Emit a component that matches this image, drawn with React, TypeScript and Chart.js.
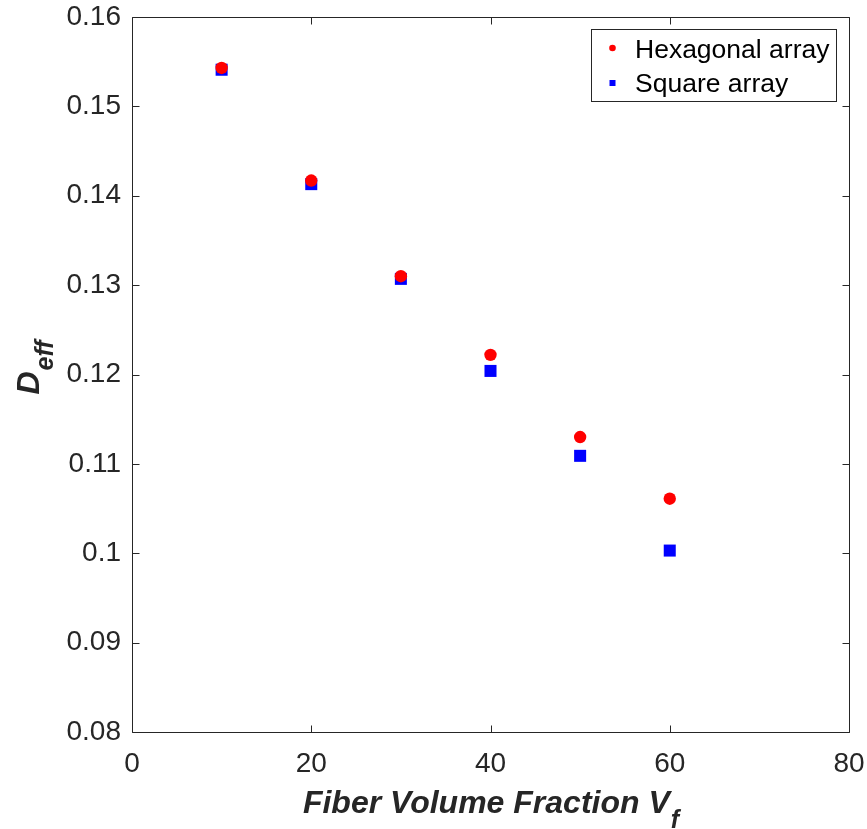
import React, { useEffect, useRef } from "react";
import { Chart, registerables } from "chart.js";

Chart.register(...registerables);

const fiberFractions = [10, 20, 30, 40, 50, 60];
const hexagonalDeff = [0.1543, 0.1417, 0.1310, 0.1222, 0.1130, 0.1061];
const squareDeff = [0.1541, 0.1413, 0.1307, 0.1204, 0.1109, 0.1003];
const seriesLabels = ["Hexagonal array", "Square array"];
const xTicks = [0, 20, 40, 60, 80];
const yTicks = [0.08, 0.09, 0.1, 0.11, 0.12, 0.13, 0.14, 0.15, 0.16];

const AXIS_COLOR = "#262626";
const FONT = "'Liberation Sans', Arial, Helvetica, sans-serif";

const decorPlugin = {
  id: "matlabDecor",
  afterDraw(chart: any) {
    const { ctx, chartArea } = chart;
    const { left, right, top, bottom } = chartArea;
    const xs = chart.scales.x;
    const ys = chart.scales.y;
    ctx.save();
    ctx.strokeStyle = AXIS_COLOR;
    ctx.lineWidth = 1;
    const L = Math.round(left) + 0.5;
    const R = Math.round(right) + 0.5;
    const T = Math.round(top) + 0.5;
    const B = Math.round(bottom) + 0.5;
    ctx.beginPath();
    ctx.rect(L, T, R - L, B - T);
    ctx.stroke();
    const tl = 7;
    ctx.beginPath();
    xTicks.forEach((v) => {
      const px = Math.round(xs.getPixelForValue(v)) + 0.5;
      ctx.moveTo(px, B);
      ctx.lineTo(px, B - tl);
      ctx.moveTo(px, T);
      ctx.lineTo(px, T + tl);
    });
    yTicks.forEach((v) => {
      const py = Math.round(ys.getPixelForValue(v)) + 0.5;
      ctx.moveTo(L, py);
      ctx.lineTo(L + tl, py);
      ctx.moveTo(R, py);
      ctx.lineTo(R - tl, py);
    });
    ctx.stroke();

    // Legend
    const lx = 591.5, ly = 29.5, lw = 245, lh = 72;
    ctx.fillStyle = "#ffffff";
    ctx.fillRect(lx, ly, lw, lh);
    ctx.strokeStyle = AXIS_COLOR;
    ctx.strokeRect(lx, ly, lw, lh);
    ctx.fillStyle = "#ff0000";
    ctx.beginPath();
    ctx.arc(612.5, 48, 3.3, 0, Math.PI * 2);
    ctx.fill();
    ctx.fillStyle = "#0000ff";
    ctx.fillRect(609.5, 80, 6, 6);
    ctx.fillStyle = "#000000";
    ctx.font = `26.5px ${FONT}`;
    ctx.textAlign = "left";
    ctx.textBaseline = "alphabetic";
    ctx.fillText(seriesLabels[0], 635, 58);
    ctx.fillText(seriesLabels[1], 635, 92);

    // X title
    ctx.fillStyle = AXIS_COLOR;
    const mainFont = `italic bold 32px ${FONT}`;
    const subFont = `italic bold 25px ${FONT}`;
    ctx.font = mainFont;
    const xMain = "Fiber Volume Fraction V";
    const w1 = ctx.measureText(xMain).width;
    ctx.font = subFont;
    const w2 = ctx.measureText("f").width;
    const cx = (left + right) / 2;
    const sx = cx - (w1 + w2) / 2;
    ctx.font = mainFont;
    ctx.fillText(xMain, sx, 813);
    ctx.font = subFont;
    ctx.fillText("f", sx + w1 + 1, 828);

    // Y title
    ctx.save();
    ctx.translate(39, 368);
    ctx.rotate(-Math.PI / 2);
    ctx.font = mainFont;
    const wd = ctx.measureText("D").width;
    ctx.font = subFont;
    const we = ctx.measureText("eff").width;
    const sy = -(wd + we) / 2;
    ctx.font = mainFont;
    ctx.fillText("D", sy, 0);
    ctx.font = subFont;
    ctx.fillText("eff", sy + wd + 1, 14);
    ctx.restore();

    ctx.restore();
  },
};

export default function App() {
  const ref = useRef<HTMLCanvasElement>(null);
  useEffect(() => {
    if (!ref.current) return;
    const chart = new Chart(ref.current, {
      type: "scatter",
      data: {
        datasets: [
          {
            label: seriesLabels[0],
            data: fiberFractions.map((x, i) => ({ x, y: hexagonalDeff[i] })),
            pointStyle: "circle",
            pointRadius: 6.2,
            backgroundColor: "#ff0000",
            borderWidth: 0,
          },
          {
            label: seriesLabels[1],
            data: fiberFractions.map((x, i) => ({ x, y: squareDeff[i] })),
            pointStyle: "rect",
            pointRadius: 8.5,
            backgroundColor: "#0000ff",
            borderWidth: 0,
          },
        ],
      },
      options: {
        responsive: false,
        animation: false,
        devicePixelRatio: 1,
        layout: { padding: { top: 17, right: 18, left: 0, bottom: 0 } },
        plugins: { legend: { display: false }, tooltip: { enabled: false } },
        scales: {
          x: {
            type: "linear",
            min: 0,
            max: 80,
            afterBuildTicks: (s: any) => {
              s.ticks = xTicks.map((v) => ({ value: v }));
            },
            afterFit: (s: any) => {
              s.height = 97;
              s.paddingLeft = 0;
              s.paddingRight = 0;
              s.paddingTop = 0;
              s.paddingBottom = 0;
            },
            grid: { display: false, drawTicks: false },
            border: { display: false },
            ticks: {
              color: AXIS_COLOR,
              font: { family: FONT, size: 28 },
              padding: 15,
              maxRotation: 0,
              autoSkip: false,
            },
          },
          y: {
            type: "linear",
            min: 0.08,
            max: 0.16,
            afterBuildTicks: (s: any) => {
              s.ticks = yTicks.map((v) => ({ value: v }));
            },
            afterFit: (s: any) => {
              s.width = 132;
              s.paddingLeft = 0;
              s.paddingRight = 0;
              s.paddingTop = 0;
              s.paddingBottom = 0;
            },
            grid: { display: false, drawTicks: false },
            border: { display: false },
            ticks: {
              color: AXIS_COLOR,
              font: { family: FONT, size: 28 },
              padding: 11,
              autoSkip: false,
              callback: (v: any) => String(Number(Number(v).toFixed(2))),
            },
          },
        },
      },
      plugins: [decorPlugin],
    });
    return () => chart.destroy();
  }, []);
  return (
    <div style={{ position: "absolute", left: 0, top: 0, width: 867, height: 829, background: "#fff" }}>
      <canvas ref={ref} width={867} height={829} />
    </div>
  );
}
